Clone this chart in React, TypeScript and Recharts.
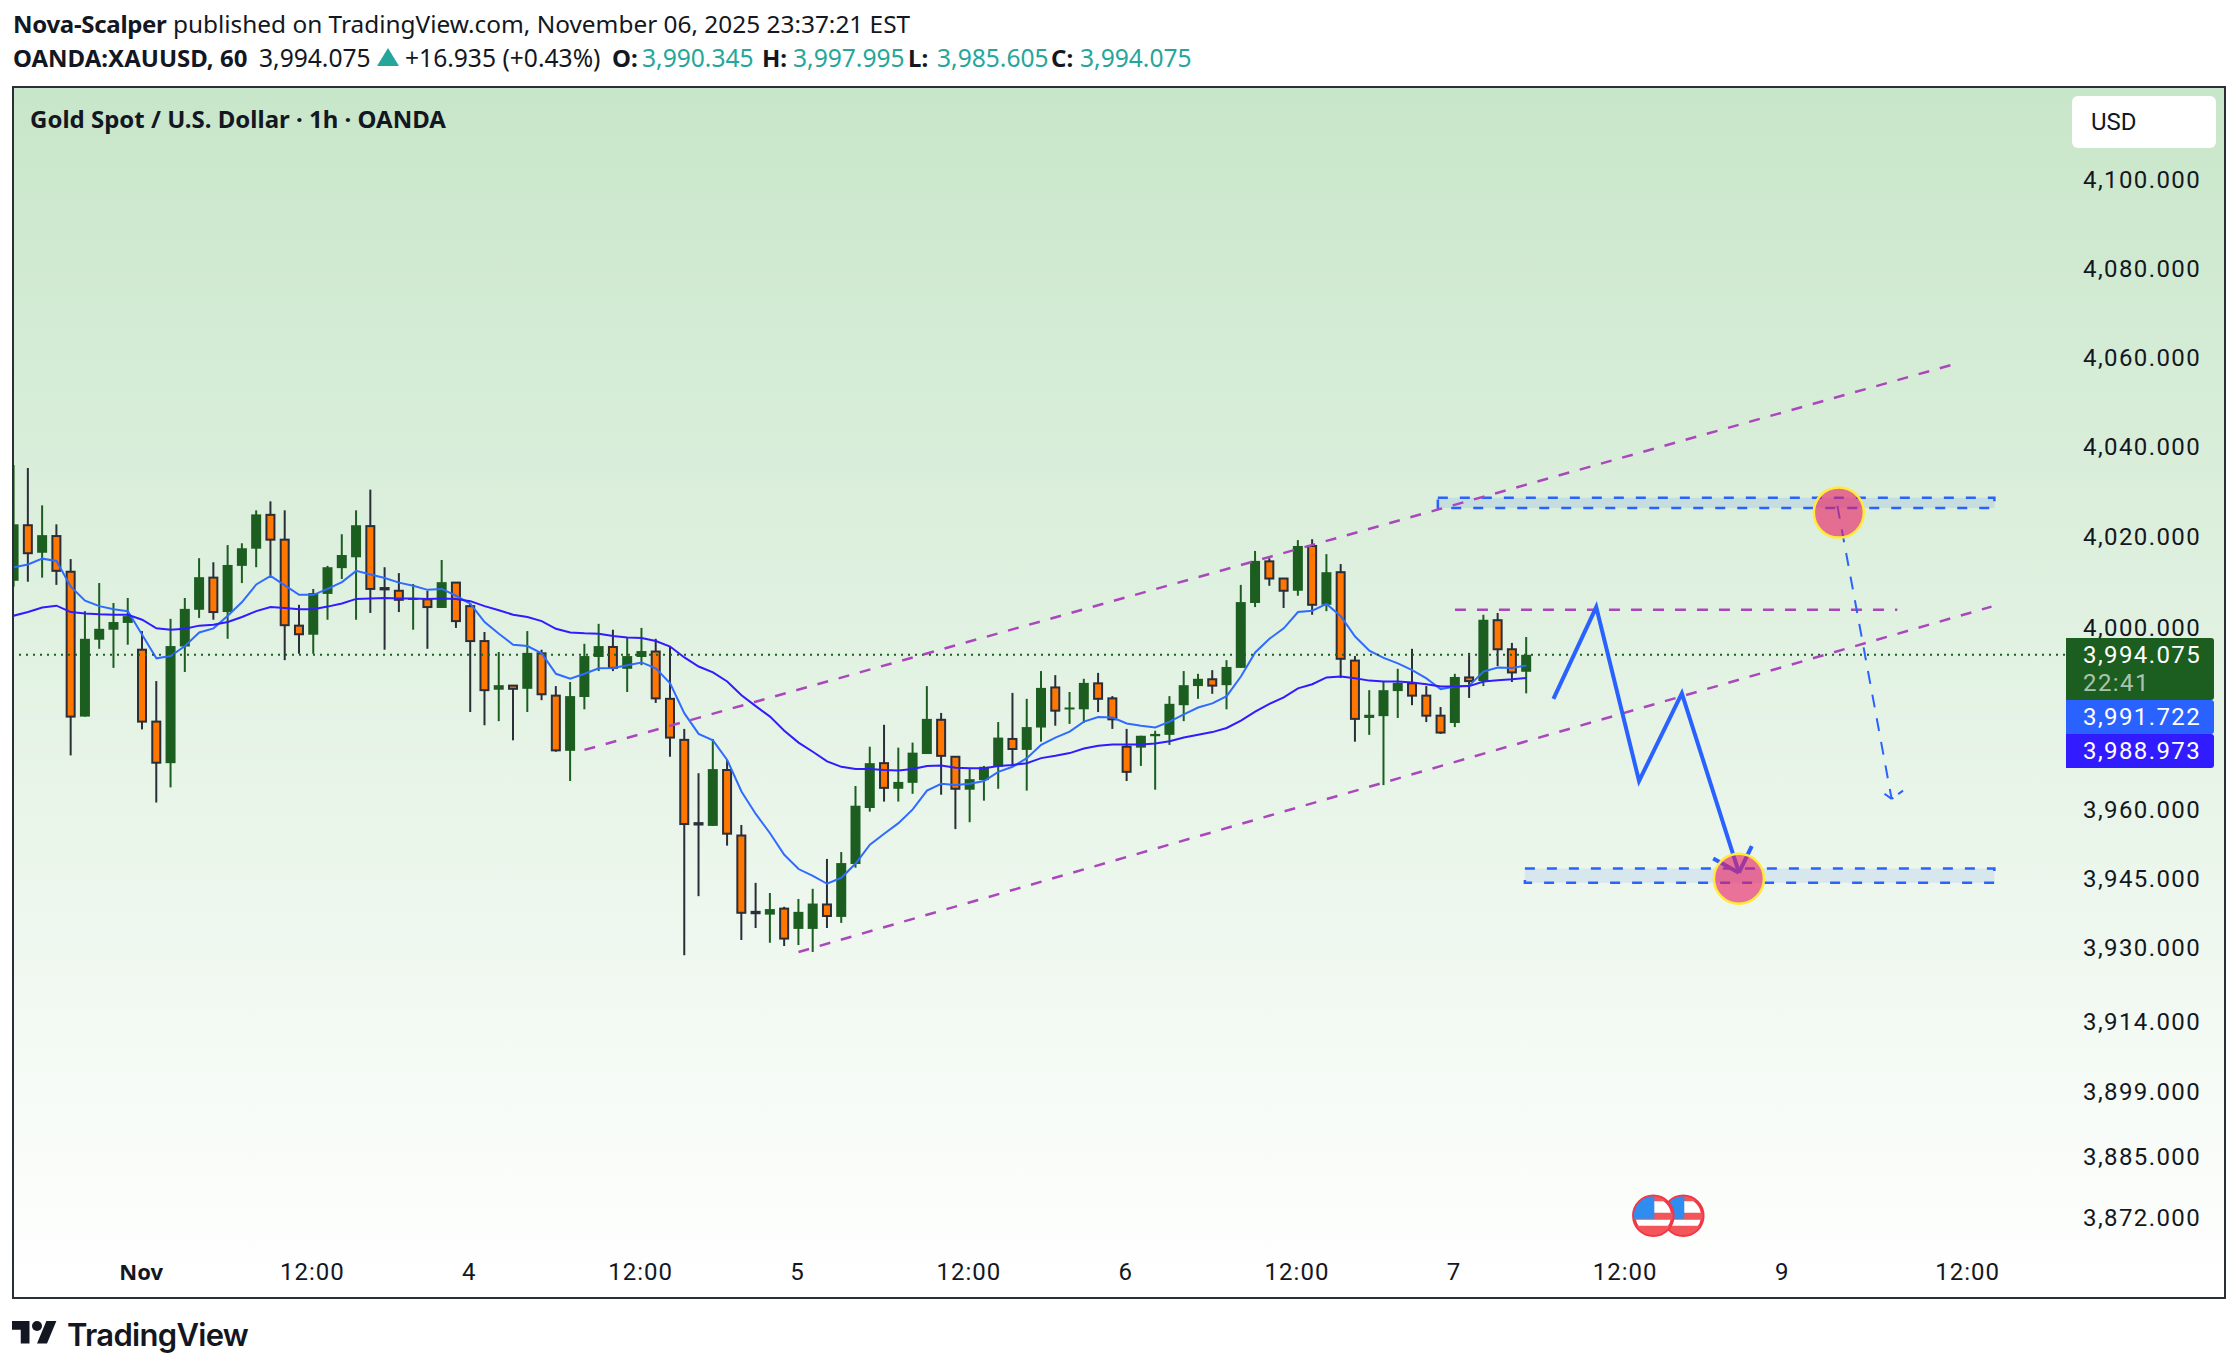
import React from 'react';
import { ComposedChart, Bar, Line, XAxis, YAxis, ReferenceLine, ReferenceArea, ReferenceDot } from 'recharts';

const opens = [4010.4,4022.7,4016.6,4020.3,4012.4,3980.5,3997.4,3999.6,4001.1,3995.2,
3979.4,3970.3,3995.9,4004.0,4011.1,4003.5,4013.7,4017.5,4025.0,4019.5,
4000.5,3998.5,4007.5,4013.2,4015.6,4022.5,4008.8,4008.2,4006.2,4006.3,
4004.4,4010.0,4004.8,3997.1,3986.4,3987.3,3986.6,3994.4,3985.1,3973.0,
3984.8,3993.6,3995.8,3991.0,3993.6,3994.8,3984.4,3975.4,3957.2,3956.6,
3968.8,3954.5,3937.9,3937.3,3938.6,3934.2,3934.2,3939.5,3936.8,3948.3,
3960.5,3970.3,3964.7,3966.0,3972.3,3979.8,3971.7,3964.5,3966.6,3969.5,
3975.6,3973.2,3978.1,3986.9,3982.2,3982.1,3987.8,3984.5,3973.9,3973.7,
3976.2,3976.5,3983.0,3987.2,3988.7,3987.4,3991.2,4005.5,4014.7,4010.9,
4008.2,4018.1,4005.1,4012.3,3992.8,3980.2,3980.6,3986.1,3987.8,3985.1,
3980.7,3979.1,3989.1,3988.3,4001.7,3995.3,3990.345];
const closes = [4022.9,4016.5,4020.5,4012.6,3980.5,3997.6,3999.8,4001.3,4002.6,3979.4,
3970.4,3996.0,4004.2,4011.2,4003.5,4013.9,4017.6,4025.1,4019.5,4000.6,
3998.6,4007.7,4013.4,4016.1,4022.7,4008.6,4008.5,4006.2,4006.6,4004.6,
4010.1,4001.5,3997.1,3986.3,3987.4,3986.6,3994.5,3985.4,3973.1,3985.0,
3993.8,3996.0,3991.2,3993.8,3994.9,3984.5,3975.9,3957.0,3956.9,3969.0,
3954.9,3937.7,3937.6,3938.5,3932.1,3937.9,3939.7,3937.0,3948.5,3961.0,
3970.3,3964.9,3966.2,3972.6,3980.0,3971.9,3964.7,3966.8,3969.5,3975.9,
3973.4,3978.2,3986.8,3981.8,3982.5,3987.9,3984.4,3979.9,3968.4,3976.3,
3976.7,3983.3,3987.4,3988.8,3987.3,3991.4,4005.7,4014.8,4010.9,4008.2,
4018.1,4005.1,4012.3,3993.2,3980.0,3980.9,3986.3,3987.9,3985.1,3980.7,
3977.0,3989.2,3988.3,4001.8,3995.3,3990.2,3994.075];
const highs = [4036.1,4035.4,4027.1,4022.9,4015.2,4003.7,4009.9,4005.5,4006.6,3999.3,
3988.3,4002.0,4006.6,4015.4,4014.5,4018.3,4018.7,4026.0,4028.0,4026.0,
4005.1,4008.6,4013.7,4020.7,4026.0,4030.6,4013.4,4012.1,4009.7,4008.2,
4015.0,4010.0,4005.3,3999.1,3994.7,3987.4,3999.3,3995.2,3987.2,3988.1,
3996.5,4000.9,3999.6,3997.8,4000.0,3997.6,3996.0,3977.8,3968.1,3975.6,
3971.0,3956.8,3944.2,3942.0,3939.0,3940.7,3942.9,3949.4,3950.9,3965.3,
3973.9,3978.7,3973.7,3974.8,3987.2,3981.3,3971.8,3969.0,3969.7,3979.3,
3985.7,3984.4,3990.5,3989.6,3985.9,3988.8,3990.1,3985.0,3977.8,3976.3,
3977.4,3985.0,3990.5,3989.9,3990.7,3992.9,4009.5,4017.0,4015.4,4010.9,
4019.4,4019.6,4016.3,4014.1,3993.8,3986.3,3988.1,3991.0,3995.4,3987.2,
3982.6,3989.9,3994.5,4002.9,4003.3,3996.7,3997.995];
const lows = [4009.1,4010.2,4011.1,4009.5,3972.0,3980.5,3995.4,3991.2,3996.3,3977.7,
3961.7,3965.0,3990.3,4002.2,4001.8,3997.6,4009.9,4013.4,4011.5,3992.9,
3994.3,3994.3,4001.8,4010.8,4001.8,4003.3,3995.2,4003.5,3999.6,3995.4,
4004.4,4000.0,3981.5,3978.6,3979.5,3975.3,3981.5,3984.1,3972.8,3966.4,
3982.1,3990.5,3990.5,3985.9,3991.8,3983.5,3971.7,3928.5,3941.3,3956.6,
3952.3,3931.8,3934.4,3931.2,3930.5,3930.7,3929.2,3934.4,3935.5,3947.5,
3959.7,3961.9,3961.9,3963.6,3972.3,3963.4,3955.9,3957.4,3962.1,3964.7,
3969.5,3964.3,3975.0,3978.5,3978.9,3979.1,3981.5,3977.8,3966.4,3969.7,
3964.5,3974.3,3979.5,3984.4,3985.5,3982.1,3991.2,4004.6,4009.3,4004.4,
4007.1,4002.9,4003.7,3989.0,3975.0,3976.5,3965.5,3980.2,3983.0,3979.3,
3976.7,3978.2,3984.6,3987.2,3991.6,3988.1,3985.605];
const fastMA = [4013.4,4014.0,4015.3,4014.8,4009.1,4006.0,4004.8,4004.1,4003.7,3998.5,
3993.3,3993.8,3996.0,3999.0,3999.9,4002.7,4005.7,4009.6,4011.5,4009.4,
4007.3,4007.3,4008.6,4010.1,4012.6,4011.8,4011.0,4010.0,4009.3,4008.4,
4008.6,4007.1,4005.3,4001.3,3998.7,3996.3,3996.0,3994.4,3989.9,3988.8,
3989.9,3991.1,3991.2,3991.8,3992.4,3991.1,3987.8,3981.2,3976.7,3975.3,
3971.0,3964.1,3959.2,3955.0,3950.3,3947.2,3945.7,3944.0,3945.3,3948.4,
3952.5,3954.9,3957.2,3960.2,3964.3,3965.8,3965.5,3965.8,3966.4,3968.4,
3969.5,3971.4,3974.3,3975.9,3977.2,3979.4,3980.4,3980.3,3979.0,3978.5,
3978.1,3979.4,3981.0,3982.5,3983.4,3985.0,3989.3,3994.6,3997.6,3999.9,
4003.5,4003.8,4005.3,4002.6,3998.1,3995.0,3993.4,3992.2,3990.7,3988.9,
3986.5,3987.1,3987.3,3990.4,3991.3,3991.2,3991.722];
const slowMA = [4002.7,4003.5,4004.5,4004.9,4003.5,4003.2,4003.0,4002.9,4002.9,4001.8,
3999.9,3999.6,3999.8,4000.5,4000.7,4001.3,4002.4,4003.7,4004.6,4004.4,
4004.1,4004.1,4004.7,4005.4,4006.4,4006.5,4006.6,4006.5,4006.5,4006.4,
4006.5,4006.4,4005.9,4004.8,4003.9,4002.9,4002.4,4001.5,3999.8,3999.0,
3998.8,3998.7,3998.2,3997.9,3997.8,3997.1,3995.9,3993.5,3991.5,3990.2,
3988.2,3985.2,3982.8,3980.5,3977.4,3974.8,3972.8,3970.7,3969.5,3969.0,
3969.0,3968.8,3968.7,3969.0,3969.7,3969.8,3969.3,3969.2,3969.2,3969.7,
3969.9,3970.3,3971.4,3971.9,3972.5,3973.5,3974.1,3974.4,3974.4,3974.4,
3974.6,3975.1,3975.9,3976.5,3977.1,3978.0,3979.6,3981.6,3983.3,3984.7,
3986.7,3987.6,3989.1,3989.3,3988.9,3988.4,3988.2,3988.2,3988.0,3987.6,
3987.1,3987.1,3987.2,3988.2,3988.5,3988.7,3988.973];

const priceTicks = [4100,4080,4060,4040,4020,4000,3960,3945,3930,3914,3899,3885,3872];
const timeTicks = [9,21,32,44,55,67,78,90,101,113,124,137];
const timeLabels = ['Nov','12:00','4','12:00','5','12:00','6','12:00','7','12:00','9','12:00'];

const zigzagX = [107.9,110.9,113.9,116.9,120.9];
const zigzagY = [3984.4,4004.6,3966.4,3985.6,3946.4];

const INK = '#131722';
const FRAME = '#2a2e39';
const GREEN = '#1b5e20';
const ORANGE = '#ff7700';
const BLUE = '#2962ff';
const INDIGO = '#311bff';
const PURPLE = '#ab47bc';
const TEAL = '#26a69a';
const PINK = '#e91e63';
const YELLOW = '#ffeb3b';
const HEAD = "'Noto Sans', sans-serif";
const AXIS = "Roboto, sans-serif";

const rows = opens.map((open, i) => ({
  idx: i, open, close: closes[i], high: highs[i], low: lows[i], fast: fastMA[i], slow: slowMA[i],
}));
const zigzag = zigzagX.map((idx, i) => ({ idx, price: zigzagY[i] }));

function Candle(props: any) {
  const { x, y, width, height, payload } = props;
  const top = Math.min(y, y + height);
  const span = Math.abs(height);
  const at = (p: number) => top + span * Math.log(payload.high / p) / Math.log(payload.high / payload.low);
  const cx = x + width / 2;
  const up = payload.close >= payload.open;
  const bt = at(Math.max(payload.open, payload.close));
  const bb = at(Math.min(payload.open, payload.close));
  return (
    <g>
      <line x1={cx} x2={cx} y1={top} y2={top + span} stroke={up ? GREEN : FRAME} strokeWidth={2} />
      {up ? (
        <rect x={cx - 5} y={bt} width={10} height={Math.max(bb - bt, 2)} fill={GREEN} />
      ) : (
        <rect x={cx - 4} y={bt} width={8} height={Math.max(bb - bt, 1)} fill={ORANGE} stroke={FRAME} strokeWidth={2} />
      )}
    </g>
  );
}

function FlagMark(props: any) {
  const { cx, cy, id } = props;
  const r = 19.5;
  return (
    <g>
      <defs>
        <clipPath id={id}><circle cx={cx} cy={cy} r={r} /></clipPath>
      </defs>
      <circle cx={cx} cy={cy} r={r} fill="#ffffff" stroke="#f23645" strokeWidth={3.5} />
      <g clipPath={`url(#${id})`}>
        <rect x={cx - r} y={cy - r} width={2 * r} height={5} fill="#f2555a" />
        <rect x={cx - r} y={cy - 3} width={2 * r} height={7} fill="#f2555a" />
        <rect x={cx - r} y={cy + 10} width={2 * r} height={10} fill="#f2555a" />
        <rect x={cx - r} y={cy - r} width={r + 1} height={r + 3} fill="#2f8cf0" />
      </g>
    </g>
  );
}

function PriceTick(props: any) {
  const { x, y, payload } = props;
  return (
    <text x={x + 10} y={y + 8} fill={INK} fontFamily={AXIS} fontSize={24} letterSpacing={1.4}>
      {Number(payload.value).toLocaleString('en-US', { minimumFractionDigits: 3 })}
    </text>
  );
}

function TimeTick(props: any) {
  const { x, y, payload } = props;
  const label = timeLabels[timeTicks.indexOf(payload.value)];
  const bold = label === 'Nov';
  return (
    <text x={x - 1} y={y + 22} fill={INK} fontFamily={bold ? HEAD : AXIS} fontWeight={bold ? 700 : 400} fontSize={bold ? 22 : 24} letterSpacing={bold ? 0 : 1} textAnchor="middle">
      {label}
    </text>
  );
}

const abs = (left: number, top: number, extra: any = {}) => ({ position: 'absolute' as const, left, top, whiteSpace: 'pre' as const, ...extra });
const reg = { fontSize: 24.6, lineHeight: '30px' };
const bld = { fontSize: 24, lineHeight: '30px', fontWeight: 700 };
const num = { ...reg, color: TEAL };

export default function App() {
  return (
    <div style={{ position: 'absolute', left: 0, top: 0, width: 2238, height: 1370, background: '#ffffff', overflow: 'hidden', fontFamily: HEAD, color: INK }}>
      <div style={{ position: 'absolute', left: 12, top: 85.5, width: 2209.5, height: 1209, border: `2.5px solid ${FRAME}`, background: 'linear-gradient(180deg,#c8e6c9 0%,#ffffff 100%)' }} />
      <div style={{ position: 'absolute', left: 14, top: 88 }}>
        <ComposedChart width={2210} height={1207} data={rows} margin={{ top: 0, right: 0, bottom: 0, left: 0 }}>
          <XAxis dataKey="idx" type="number" domain={[0.02, 143.75]} allowDataOverflow ticks={timeTicks} interval={0} height={45} axisLine={false} tickLine={false} tick={<TimeTick />} />
          <YAxis orientation="right" width={159} scale="log" domain={[3865.2, 4120.8]} allowDataOverflow ticks={priceTicks} interval={0} axisLine={false} tickLine={false} tick={<PriceTick />} />

          <ReferenceArea x1={99.8} x2={138.8} y1={4026.5} y2={4028.8} fill={BLUE} fillOpacity={0.12} stroke={BLUE} strokeWidth={2.5} strokeDasharray="10 12" />
          <ReferenceArea x1={105.9} x2={138.8} y1={3944.2} y2={3947.3} fill={BLUE} fillOpacity={0.1} stroke={BLUE} strokeWidth={2.5} strokeDasharray="10 12" />

          <Line dataKey="fast" stroke="#2f6bff" strokeWidth={2} dot={false} activeDot={false} isAnimationActive={false} legendType="none" />
          <Line dataKey="slow" stroke={INDIGO} strokeWidth={2} dot={false} activeDot={false} isAnimationActive={false} legendType="none" />
          <Bar dataKey={(d: any) => [d.low, d.high]} barSize={10} shape={<Candle />} isAnimationActive={false} />

          <ReferenceLine y={3994.075} stroke={GREEN} strokeWidth={2} strokeDasharray="2 5" />
          <ReferenceLine segment={[{ x: 40, y: 3973.2 }, { x: 135.8, y: 4058.4 }]} stroke={PURPLE} strokeWidth={2.5} strokeDasharray="11 11" />
          <ReferenceLine segment={[{ x: 55, y: 3929.2 }, { x: 138.6, y: 4004.7 }]} stroke={PURPLE} strokeWidth={2.5} strokeDasharray="11 11" />
          <ReferenceLine segment={[{ x: 101, y: 4004.0 }, { x: 132, y: 4004.0 }]} stroke={PURPLE} strokeWidth={2.5} strokeDasharray="11 11" />

          <ReferenceLine segment={[{ x: 127.8, y: 4027.0 }, { x: 131.6, y: 3962.5 }]} stroke={BLUE} strokeWidth={2} strokeDasharray="13 11" />
          <ReferenceLine segment={[{ x: 131.1, y: 3963.6 }, { x: 131.6, y: 3962.5 }]} stroke={BLUE} strokeWidth={2} />
          <ReferenceLine segment={[{ x: 132.4, y: 3964.3 }, { x: 131.6, y: 3962.5 }]} stroke={BLUE} strokeWidth={2} strokeDasharray="6 6" />

          <Line data={zigzag} dataKey="price" stroke={BLUE} strokeWidth={4} dot={false} activeDot={false} isAnimationActive={false} legendType="none" />
          <ReferenceLine segment={[{ x: 119.1, y: 3949.5 }, { x: 120.9, y: 3946.4 }]} stroke={BLUE} strokeWidth={4} />
          <ReferenceLine segment={[{ x: 121.8, y: 3952.2 }, { x: 120.9, y: 3946.4 }]} stroke={BLUE} strokeWidth={4} />

          <ReferenceDot x={127.9} y={4025.5} r={25} fill={PINK} fillOpacity={0.62} stroke={YELLOW} strokeWidth={2.5} />
          <ReferenceDot x={120.9} y={3945.1} r={25} fill={PINK} fillOpacity={0.62} stroke={YELLOW} strokeWidth={2.5} />
          <ReferenceDot x={117} y={3872.5} r={19} shape={(p: any) => <FlagMark {...p} id="flagB" />} />
          <ReferenceDot x={114.9} y={3872.5} r={19} shape={(p: any) => <FlagMark {...p} id="flagA" />} />
        </ComposedChart>
      </div>

      <div style={abs(13, 9, { fontSize: 24.4, lineHeight: '30px' })}><b style={{ fontSize: 24, letterSpacing: -0.3 }}>Nova-Scalper</b> published on TradingView.com, November 06, 2025 23:37:21 EST</div>
      <div style={abs(13, 43, bld)}>OANDA:XAUUSD, 60</div>
      <div style={abs(259, 43, reg)}>3,994.075</div>
      <svg style={{ position: 'absolute', left: 377, top: 48 }} width={22} height={18}>
        <polygon points="11,0 22,18 0,18" fill={TEAL} />
      </svg>
      <div style={abs(405, 43, reg)}>+16.935 (+0.43%)</div>
      <div style={abs(612, 43, bld)}>O:</div>
      <div style={abs(642, 43, num)}>3,990.345</div>
      <div style={abs(762, 43, bld)}>H:</div>
      <div style={abs(793, 43, num)}>3,997.995</div>
      <div style={abs(908, 43, bld)}>L:</div>
      <div style={abs(937, 43, num)}>3,985.605</div>
      <div style={abs(1051, 43, bld)}>C:</div>
      <div style={abs(1080, 43, num)}>3,994.075</div>

      <div style={abs(30, 104, bld)}>Gold Spot / U.S. Dollar · 1h · OANDA</div>

      <div style={{ position: 'absolute', left: 2072, top: 96, width: 144, height: 52, background: '#ffffff', borderRadius: 6 }}>
        <span style={abs(19, 11, { fontFamily: AXIS, fontSize: 24, lineHeight: '30px' })}>USD</span>
      </div>

      <div style={{ position: 'absolute', left: 2066, top: 638, width: 148, height: 62, background: GREEN, borderRadius: '0 3px 3px 0' }}>
        <span style={abs(17, 2, { fontFamily: AXIS, fontSize: 24, lineHeight: '30px', letterSpacing: 1.4, color: '#ffffff' })}>3,994.075</span>
        <span style={abs(17, 30, { fontFamily: AXIS, fontSize: 24, lineHeight: '30px', letterSpacing: 1.4, color: 'rgba(255,255,255,0.65)' })}>22:41</span>
      </div>
      <div style={{ position: 'absolute', left: 2066, top: 700, width: 148, height: 34, background: BLUE, borderRadius: '0 3px 3px 0' }}>
        <span style={abs(17, 2, { fontFamily: AXIS, fontSize: 24, lineHeight: '30px', letterSpacing: 1.4, color: '#ffffff' })}>3,991.722</span>
      </div>
      <div style={{ position: 'absolute', left: 2066, top: 734, width: 148, height: 34, background: INDIGO, borderRadius: '0 3px 3px 0' }}>
        <span style={abs(17, 2, { fontFamily: AXIS, fontSize: 24, lineHeight: '30px', letterSpacing: 1.4, color: '#ffffff' })}>3,988.973</span>
      </div>

      <svg style={{ position: 'absolute', left: 12, top: 1316 }} width={45} height={35} viewBox="0 0 36 28">
        <path d="M14 22H7V11H0V4h14v18zM28 22h-8l7.5-18h8L28 22z" fill={INK} />
        <circle cx={20} cy={8} r={4} fill={INK} />
      </svg>
      <div style={abs(67, 1315, { fontFamily: "Inter, sans-serif", fontSize: 31, lineHeight: '40px', fontWeight: 600, letterSpacing: -0.7 })}>TradingView</div>
    </div>
  );
}
